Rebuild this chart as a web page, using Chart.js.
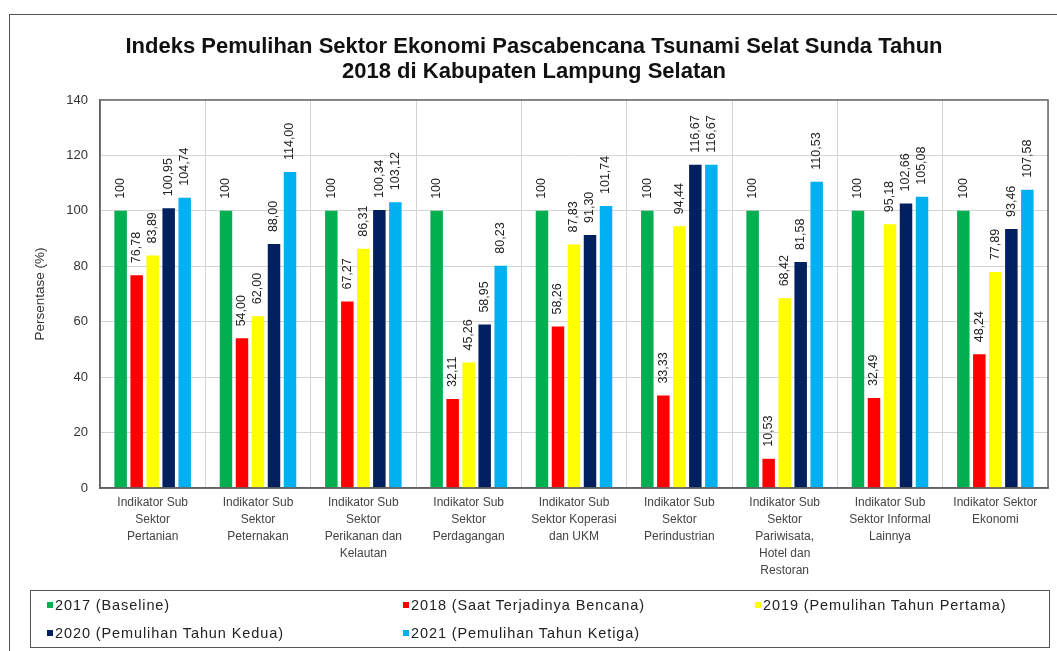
<!DOCTYPE html>
<html>
<head>
<meta charset="utf-8">
<script src="https://cdn.jsdelivr.net/npm/chart.js@4/dist/chart.umd.min.js"></script>
<style>
  html, body { margin: 0; padding: 0; background: #fff; }
  #wrap { position: relative; width: 1057px; height: 651px; overflow: hidden; }
  #frame { position: absolute; left: 9px; top: 14px; width: 1100px; height: 700px; border: 1.5px solid #555; box-sizing: border-box; }
  canvas { position: absolute; left: 0; top: 0; }
  #legend { position: absolute; left: 30px; top: 590px; width: 1020px; height: 58px; border: 1.5px solid #555; box-sizing: border-box;
            font-family: "Liberation Sans", Arial, sans-serif; font-size: 14.5px; letter-spacing: 0.9px; color: #222; }
  .item { position: absolute; white-space: nowrap; line-height: 16px; }
  .item i { display: inline-block; width: 6px; height: 6px; margin-right: 2px; vertical-align: 2px; }
</style>
</head>
<body>
<div id="wrap">
  <div id="frame"></div>
  <canvas id="c" width="1057" height="651"></canvas>
  <div id="legend"></div>
</div>
<script>
const titleLines = ["Indeks Pemulihan Sektor Ekonomi Pascabencana Tsunami Selat Sunda Tahun", "2018 di Kabupaten Lampung Selatan"];
const categories = [
  ["Indikator Sub", "Sektor", "Pertanian"],
  ["Indikator Sub", "Sektor", "Peternakan"],
  ["Indikator Sub", "Sektor", "Perikanan dan", "Kelautan"],
  ["Indikator Sub", "Sektor", "Perdagangan"],
  ["Indikator Sub", "Sektor Koperasi", "dan UKM"],
  ["Indikator Sub", "Sektor", "Perindustrian"],
  ["Indikator Sub", "Sektor", "Pariwisata,", "Hotel dan", "Restoran"],
  ["Indikator Sub", "Sektor Informal", "Lainnya"],
  ["Indikator Sektor", "Ekonomi"]
];
const seriesNames = ["2017 (Baseline)", "2018 (Saat Terjadinya Bencana)", "2019 (Pemulihan Tahun Pertama)", "2020 (Pemulihan Tahun Kedua)", "2021 (Pemulihan Tahun Ketiga)"];
const seriesColors = ["#00B050", "#FF0000", "#FFFF00", "#002060", "#00B0F0"];
const v2017 = [100, 100, 100, 100, 100, 100, 100, 100, 100];
const v2018 = [76.78, 54.00, 67.27, 32.11, 58.26, 33.33, 10.53, 32.49, 48.24];
const v2019 = [83.89, 62.00, 86.31, 45.26, 87.83, 94.44, 68.42, 95.18, 77.89];
const v2020 = [100.95, 88.00, 100.34, 58.95, 91.30, 116.67, 81.58, 102.66, 93.46];
const v2021 = [104.74, 114.00, 103.12, 80.23, 101.74, 116.67, 110.53, 105.08, 107.58];
const labelDecimals = [0, 2, 2, 2, 2];
const yTicks = [0, 20, 40, 60, 80, 100, 120, 140];
const yTitle = "Persentase (%)";

const allValues = [v2017, v2018, v2019, v2020, v2021];
const FONT = "'Liberation Sans', Arial, sans-serif";

const valueLabels = {
  id: 'valueLabels',
  afterDatasetsDraw(chart) {
    const ctx = chart.ctx;
    ctx.save();
    ctx.font = "12.5px " + FONT;
    ctx.fillStyle = "#222";
    ctx.textAlign = "left";
    ctx.textBaseline = "middle";
    chart.data.datasets.forEach((ds, di) => {
      const meta = chart.getDatasetMeta(di);
      meta.data.forEach((bar, i) => {
        const v = ds.data[i];
        const txt = v.toFixed(labelDecimals[di]).replace('.', ',');
        ctx.save();
        ctx.translate(bar.x, bar.y - 12);
        ctx.rotate(-Math.PI / 2);
        ctx.fillText(txt, 0, 0);
        ctx.restore();
      });
    });
    ctx.restore();
  }
};
const plotBorder = {
  id: 'plotBorder',
  afterDraw(chart) {
    const a = chart.chartArea, ctx = chart.ctx;
    ctx.save();
    ctx.strokeStyle = "#666";
    ctx.lineWidth = 1.5;
    ctx.strokeRect(a.left, a.top, a.right - a.left, a.bottom - a.top);
    ctx.restore();
  }
};

new Chart(document.getElementById('c'), {
  type: 'bar',
  data: {
    labels: categories,
    datasets: allValues.map((vals, i) => ({
      label: seriesNames[i],
      data: vals,
      backgroundColor: seriesColors[i],
      borderWidth: 0,
      categoryPercentage: 0.76,
      barPercentage: 0.78
    }))
  },
  options: {
    responsive: false,
    devicePixelRatio: 1,
    animation: false,
    layout: { padding: { top: 20, left: 20, right: 9, bottom: 63 } },
    plugins: {
      legend: { display: false },
      tooltip: { enabled: false },
      title: {
        display: true,
        text: titleLines,
        color: "#111",
        font: { family: FONT, size: 22, weight: 'bold', lineHeight: 1.136 },
        padding: { top: 14, bottom: 16 }
      }
    },
    scales: {
      x: {
        grid: { color: "#d4d4d4", drawTicks: false, offset: true },
        border: { color: "#555", width: 1.5 },
        ticks: { color: "#444", font: { family: FONT, size: 12, lineHeight: 1.42 }, padding: 6, maxRotation: 0, autoSkip: false },
        afterFit(s) { s.height = 100; }
      },
      y: {
        min: 0, max: 140,
        afterBuildTicks(s) { s.ticks = yTicks.map(v => ({ value: v })); },
        grid: { color: "#d4d4d4", drawTicks: false },
        border: { color: "#555", width: 1.5 },
        ticks: { color: "#333", font: { family: FONT, size: 13 }, padding: 12 },
        title: { display: true, text: yTitle, color: "#333", font: { family: FONT, size: 13.5 }, padding: { top: 12, bottom: 0 } },
        afterFit(s) { s.width = 80; }
      }
    }
  },
  plugins: [valueLabels, plotBorder]
});

const legendPos = [[16, 6], [372, 6], [724, 6], [16, 34], [372, 34]];
const lg = document.getElementById('legend');
seriesNames.forEach((name, i) => {
  const d = document.createElement('div');
  d.className = 'item';
  d.style.left = legendPos[i][0] + 'px';
  d.style.top = legendPos[i][1] + 'px';
  const m = document.createElement('i');
  m.style.background = seriesColors[i];
  d.appendChild(m);
  d.appendChild(document.createTextNode(name));
  lg.appendChild(d);
});
</script>
</body>
</html>
